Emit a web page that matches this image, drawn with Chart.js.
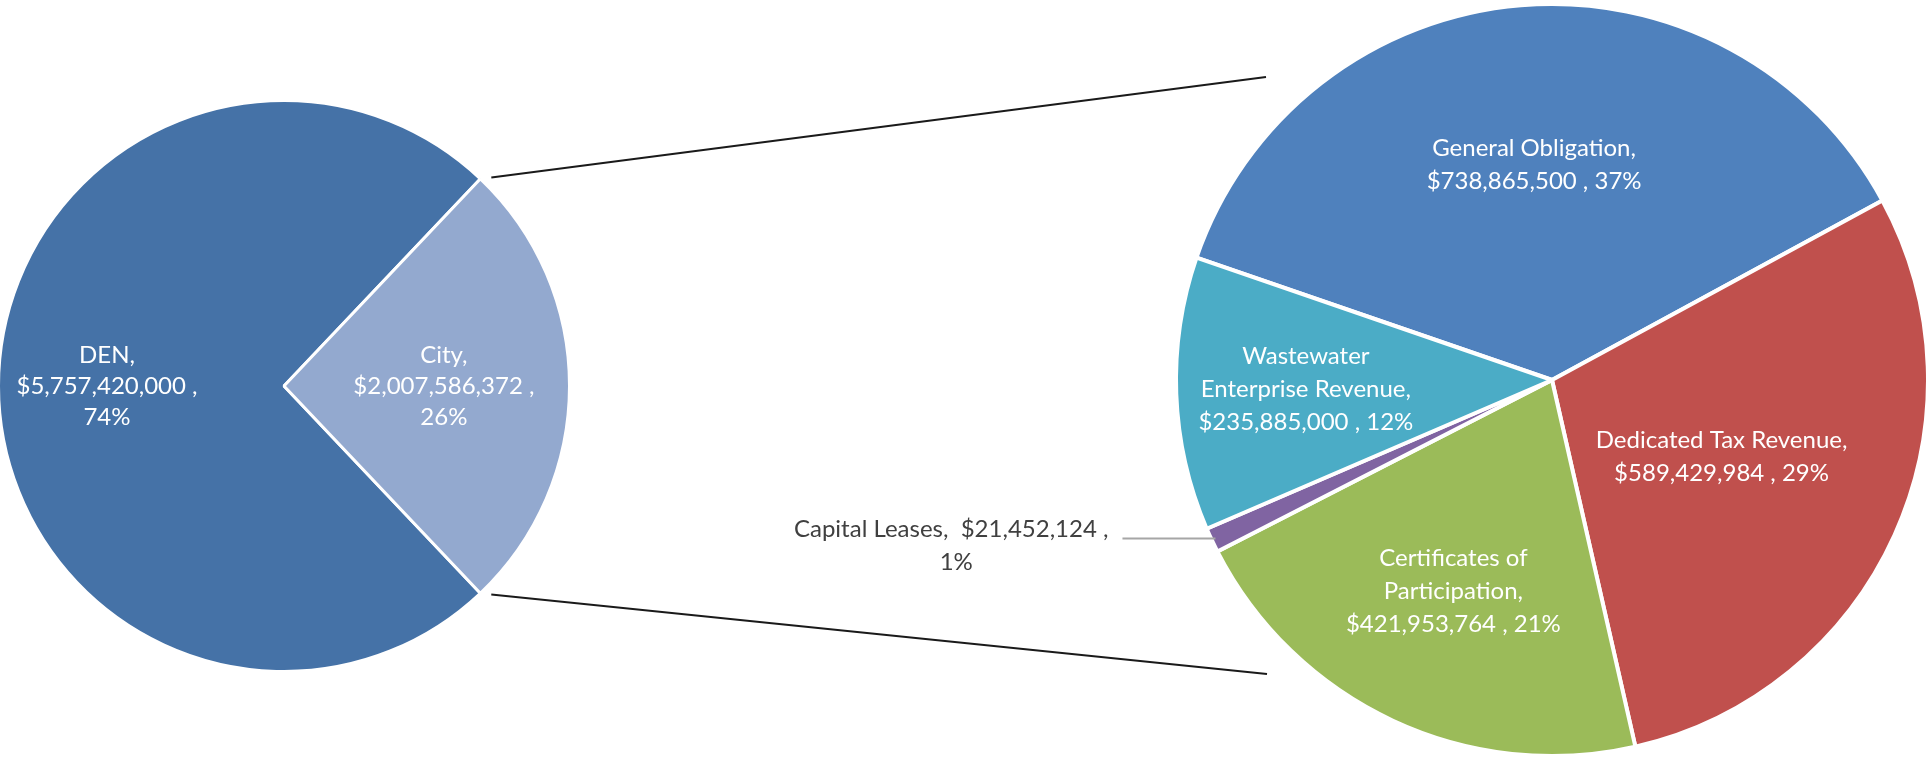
<!DOCTYPE html>
<html>
<head>
<meta charset="utf-8">
<script src="https://cdn.jsdelivr.net/npm/chart.js@4.4.1/dist/chart.umd.min.js"></script>
<style>
  html, body { margin: 0; padding: 0; background: #fff; overflow: hidden; }
  #wrap { position: relative; width: 1927px; height: 757px; }
  #wrap canvas { position: absolute; left: 0; top: 0; }
</style>
</head>
<body>
<div id="wrap">
  <canvas id="totalPie" width="1927" height="757"></canvas>
  <canvas id="cityPie" width="1927" height="757"></canvas>
</div>
<script>
// data
var totalLabels = [['DEN'], ['City']];
var totalValues = [5757420000, 2007586372];

var cityLabels = [['General Obligation'], ['Dedicated Tax Revenue'], ['Certificates of', 'Participation'], ['Capital Leases'], ['Wastewater', 'Enterprise Revenue']];
var cityValues = [738865500, 589429984, 421953764, 21452124, 235885000];

var totalColors = ['#4572a7', '#93a9cf'];
var cityColors = ['#4f81bd', '#c0504d', '#9bbb59', '#8064a2', '#4bacc6'];

function money(v) {
    return '$' + v.toLocaleString('en-US');
}

function percent(values, i) {
    var total = values.reduce(function (a, b) { return a + b; }, 0);
    return Math.round(values[i] / total * 100) + '%';
}

// 'stack': name / value / pct, 'pair': name / value + pct, 'inline': name + value / pct
function buildLines(name, values, i, style) {
    var lines = name.slice();
    if (style == 'inline') {
        return [lines.join(' ') + ',  ' + money(values[i]) + ' ,', percent(values, i)];
    }
    lines[lines.length - 1] += ',';
    if (style == 'stack') {
        lines.push(money(values[i]) + ' ,');
        lines.push(percent(values, i));
    } else {
        lines.push(money(values[i]) + ' , ' + percent(values, i));
    }
    return lines;
}

var sliceLabels = {
    id: 'sliceLabels',
    afterDatasetsDraw: function (chart, args, opts) {
        var ctx = chart.ctx;
        var meta = chart.getDatasetMeta(0);
        var values = chart.data.datasets[0].data;
        ctx.save();
        ctx.font = opts.labelFont;
        ctx.textAlign = 'center';
        ctx.textBaseline = 'middle';
        meta.data.forEach(function (arc, i) {
            var p = arc.getProps(['x', 'y', 'startAngle', 'endAngle', 'outerRadius'], true);
            var mid = (p.startAngle + p.endAngle) / 2;
            var lines = buildLines(chart.data.labels[i], values, i, opts.styles[i]);
            var f = opts.radius[i];
            var lh = opts.lineHeight;
            if (f != null) {
                var cx = p.x + Math.cos(mid) * p.outerRadius * f;
                var cy = p.y + Math.sin(mid) * p.outerRadius * f;
                ctx.fillStyle = '#ffffff';
                lines.forEach(function (t, k) {
                    ctx.fillText(t, cx, cy + (k - (lines.length - 1) / 2) * lh);
                });
            } else {
                // label outside the pie with a leader line
                var ex = p.x + Math.cos(mid) * (p.outerRadius - 4);
                var ey = p.y + Math.sin(mid) * (p.outerRadius - 4);
                var lx = ex - 93;
                ctx.strokeStyle = '#a6a6a6';
                ctx.lineWidth = 2;
                ctx.beginPath();
                ctx.moveTo(ex, ey);
                ctx.lineTo(lx, ey);
                ctx.stroke();
                var w = ctx.measureText(lines[0]).width;
                var tx = lx - 14 - w / 2;
                ctx.fillStyle = '#404040';
                lines.forEach(function (t, k) {
                    ctx.fillText(t, tx + (k ? 5 : 0), ey - 9 + k * lh);
                });
            }
        });
        ctx.restore();
    }
};

// lines from the City slice of the left pie to the right pie
var connectors = {
    id: 'connectors',
    afterDraw: function (chart) {
        if (!window.totalChart) return;
        var city = totalChart.getDatasetMeta(0).data[1].getProps(['x', 'y', 'startAngle', 'endAngle', 'outerRadius'], true);
        var right = chart.getDatasetMeta(0).data[0].getProps(['x', 'y'], true);
        var ends = [[right.x - 286, right.y - 303], [right.x - 285, right.y + 294]];
        var angles = [city.startAngle, city.endAngle];
        var ctx = chart.ctx;
        ctx.save();
        ctx.strokeStyle = '#1a1a1a';
        ctx.lineWidth = 2;
        angles.forEach(function (a, k) {
            var sx = city.x + Math.cos(a) * city.outerRadius;
            var sy = city.y + Math.sin(a) * city.outerRadius;
            var dx = ends[k][0] - sx, dy = ends[k][1] - sy;
            var len = Math.sqrt(dx * dx + dy * dy);
            ctx.beginPath();
            ctx.moveTo(sx + dx / len * 11, sy + dy / len * 11);
            ctx.lineTo(ends[k][0], ends[k][1]);
            ctx.stroke();
        });
        ctx.restore();
    }
};

Chart.defaults.font.family = 'Lato';

var totalChart = new Chart(document.getElementById('totalPie'), {
    type: 'pie',
    plugins: [sliceLabels],
    data: {
        labels: totalLabels,
        datasets: [{
            data: totalValues,
            backgroundColor: totalColors,
            borderColor: '#ffffff',
            borderWidth: 3,
        }]
    },
    options: {
        responsive: false,
        animation: false,
        events: [],
        rotation: 136.55,
        radius: 285.5,
        layout: {
            padding: { left: 0, top: 100, right: 1359, bottom: 85 },
        },
        plugins: {
            legend: { display: false },
            tooltip: { enabled: false },
            sliceLabels: {
                labelFont: '24px Lato',
                lineHeight: 31,
                styles: ['stack', 'stack'],
                radius: [0.62, 0.56],
            },
        },
    },
});

var cityChart = new Chart(document.getElementById('cityPie'), {
    type: 'pie',
    plugins: [sliceLabels, connectors],
    data: {
        labels: cityLabels,
        datasets: [{
            data: cityValues,
            backgroundColor: cityColors,
            borderColor: '#ffffff',
            borderWidth: 4,
        }]
    },
    options: {
        responsive: false,
        animation: false,
        events: [],
        rotation: -71,
        radius: 376,
        layout: {
            padding: { left: 1177, top: 5, right: 0, bottom: 2 },
        },
        plugins: {
            legend: { display: false },
            tooltip: { enabled: false },
            sliceLabels: {
                labelFont: '24px Lato',
                lineHeight: 33,
                styles: ['pair', 'pair', 'pair', 'inline', 'pair'],
                radius: [0.575, 0.495, 0.62, null, 0.655],
            },
        },
    },
});
</script>
</body>
</html>
